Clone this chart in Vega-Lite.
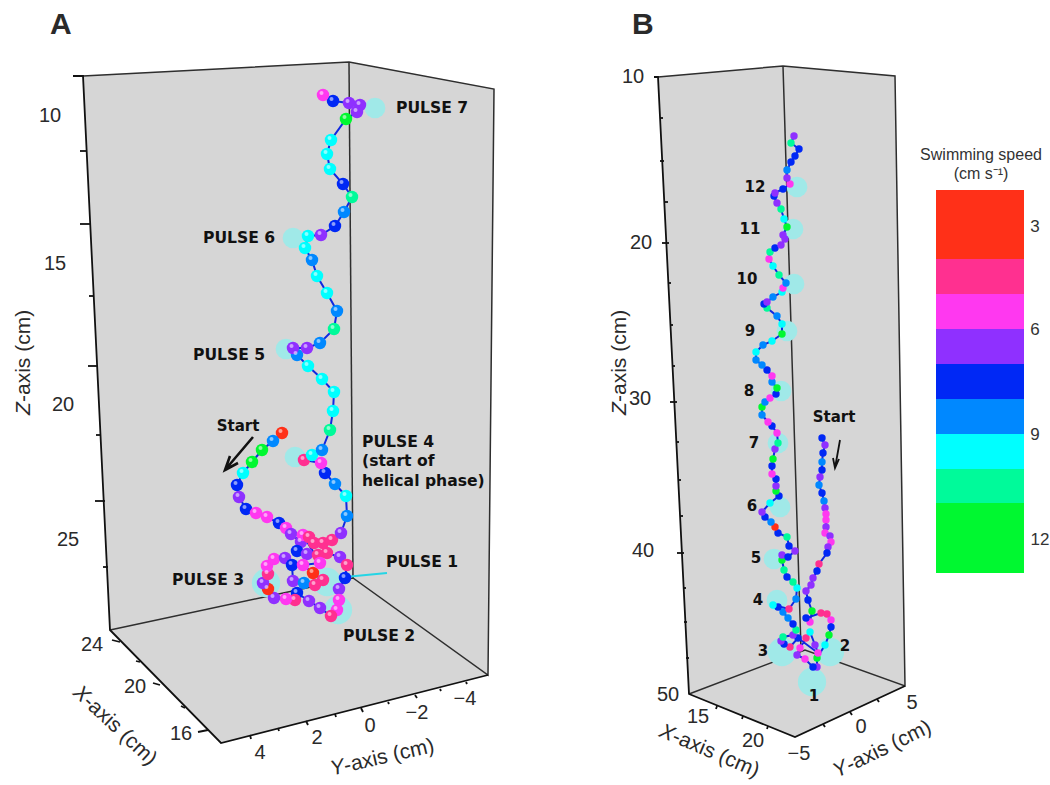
{"$schema":"https://vega.github.io/schema/vega-lite/v6.json","width":1050,"height":785,"padding":0,"autosize":"none","background":"white","config":{"view":{"stroke":null}},
"datasets":{
"track":[
{"p":"A","n":1,"x":282,"y":433,"v":3},{"p":"A","n":2,"x":273,"y":441,"v":8},{"p":"A","n":3,"x":262,"y":450,"v":12},{"p":"A","n":4,"x":252,"y":462,"v":12},{"p":"A","n":5,"x":243,"y":473,"v":9},{"p":"A","n":6,"x":237,"y":485,"v":7},{"p":"A","n":7,"x":239,"y":497,"v":6},{"p":"A","n":8,"x":246,"y":509,"v":7},{"p":"A","n":9,"x":256,"y":513,"v":5},{"p":"A","n":10,"x":267,"y":517,"v":5},{"p":"A","n":11,"x":279,"y":523,"v":7},{"p":"A","n":12,"x":286,"y":528,"v":5},{"p":"A","n":13,"x":291,"y":534,"v":6},{"p":"A","n":14,"x":301,"y":542,"v":6},{"p":"A","n":15,"x":297,"y":551,"v":7},{"p":"A","n":16,"x":307,"y":554,"v":6},{"p":"A","n":17,"x":318,"y":555,"v":4},{"p":"A","n":18,"x":327,"y":553,"v":4},{"p":"A","n":19,"x":340,"y":557,"v":6},{"p":"A","n":20,"x":347,"y":565,"v":4},{"p":"A","n":21,"x":345,"y":578,"v":7},{"p":"A","n":22,"x":339,"y":589,"v":6},{"p":"A","n":23,"x":339,"y":600,"v":5},{"p":"A","n":24,"x":337,"y":610,"v":5},{"p":"A","n":25,"x":331,"y":616,"v":4},{"p":"A","n":26,"x":320,"y":608,"v":6},{"p":"A","n":27,"x":309,"y":601,"v":6},{"p":"A","n":28,"x":297,"y":593,"v":7},{"p":"A","n":29,"x":295,"y":600,"v":4},{"p":"A","n":30,"x":286,"y":599,"v":5},{"p":"A","n":31,"x":274,"y":598,"v":6},{"p":"A","n":32,"x":268,"y":589,"v":3},{"p":"A","n":33,"x":263,"y":583,"v":6},{"p":"A","n":34,"x":268,"y":574,"v":4},{"p":"A","n":35,"x":267,"y":566,"v":5},{"p":"A","n":36,"x":274,"y":559,"v":5},{"p":"A","n":37,"x":285,"y":558,"v":6},{"p":"A","n":38,"x":292,"y":565,"v":7},{"p":"A","n":39,"x":293,"y":581,"v":6},{"p":"A","n":40,"x":304,"y":583,"v":8},{"p":"A","n":41,"x":315,"y":585,"v":4},{"p":"A","n":42,"x":323,"y":580,"v":4},{"p":"A","n":43,"x":313,"y":573,"v":3},{"p":"A","n":44,"x":303,"y":565,"v":5},{"p":"A","n":45,"x":320,"y":563,"v":5},{"p":"A","n":46,"x":303,"y":535,"v":5},{"p":"A","n":47,"x":309,"y":537,"v":4},{"p":"A","n":48,"x":314,"y":543,"v":4},{"p":"A","n":49,"x":323,"y":543,"v":4},{"p":"A","n":50,"x":332,"y":540,"v":4},{"p":"A","n":51,"x":341,"y":533,"v":6},{"p":"A","n":52,"x":347,"y":516,"v":8},{"p":"A","n":53,"x":346,"y":496,"v":9},{"p":"A","n":54,"x":335,"y":484,"v":8},{"p":"A","n":55,"x":325,"y":473,"v":7},{"p":"A","n":56,"x":321,"y":463,"v":5},{"p":"A","n":57,"x":304,"y":460,"v":4},{"p":"A","n":58,"x":312,"y":455,"v":9},{"p":"A","n":59,"x":322,"y":450,"v":8},{"p":"A","n":60,"x":330,"y":430,"v":10},{"p":"A","n":61,"x":333,"y":411,"v":9},{"p":"A","n":62,"x":334,"y":392,"v":9},{"p":"A","n":63,"x":322,"y":379,"v":9},{"p":"A","n":64,"x":308,"y":366,"v":9},{"p":"A","n":65,"x":297,"y":355,"v":8},{"p":"A","n":66,"x":293,"y":348,"v":6},{"p":"A","n":67,"x":307,"y":348,"v":6},{"p":"A","n":68,"x":320,"y":343,"v":8},{"p":"A","n":69,"x":334,"y":329,"v":10},{"p":"A","n":70,"x":337,"y":311,"v":8},{"p":"A","n":71,"x":327,"y":293,"v":9},{"p":"A","n":72,"x":317,"y":276,"v":9},{"p":"A","n":73,"x":312,"y":260,"v":8},{"p":"A","n":74,"x":305,"y":248,"v":9},{"p":"A","n":75,"x":308,"y":236,"v":9},{"p":"A","n":76,"x":321,"y":235,"v":6},{"p":"A","n":77,"x":335,"y":226,"v":7},{"p":"A","n":78,"x":344,"y":212,"v":8},{"p":"A","n":79,"x":352,"y":197,"v":10},{"p":"A","n":80,"x":343,"y":184,"v":7},{"p":"A","n":81,"x":330,"y":169,"v":9},{"p":"A","n":82,"x":327,"y":154,"v":9},{"p":"A","n":83,"x":331,"y":140,"v":9},{"p":"A","n":84,"x":346,"y":119,"v":12},{"p":"A","n":85,"x":357,"y":112,"v":6},{"p":"A","n":86,"x":360,"y":105,"v":6},{"p":"A","n":87,"x":349,"y":103,"v":6},{"p":"A","n":88,"x":333,"y":101,"v":7},{"p":"A","n":89,"x":323,"y":95,"v":5},
{"p":"B","n":1,"x":822,"y":438,"v":7},{"p":"B","n":2,"x":825,"y":445,"v":6},{"p":"B","n":3,"x":823,"y":453,"v":7},{"p":"B","n":4,"x":822,"y":462,"v":8},{"p":"B","n":5,"x":822,"y":470,"v":7},{"p":"B","n":6,"x":820,"y":477,"v":6},{"p":"B","n":7,"x":819,"y":485,"v":8},{"p":"B","n":8,"x":822,"y":493,"v":7},{"p":"B","n":9,"x":824,"y":501,"v":8},{"p":"B","n":10,"x":825,"y":508,"v":6},{"p":"B","n":11,"x":826,"y":514,"v":5},{"p":"B","n":12,"x":826,"y":520,"v":5},{"p":"B","n":13,"x":826,"y":527,"v":6},{"p":"B","n":14,"x":825,"y":533,"v":5},{"p":"B","n":15,"x":830,"y":536,"v":6},{"p":"B","n":16,"x":831,"y":542,"v":5},{"p":"B","n":17,"x":828,"y":547,"v":6},{"p":"B","n":18,"x":827,"y":553,"v":7},{"p":"B","n":19,"x":819,"y":564,"v":4},{"p":"B","n":20,"x":817,"y":571,"v":7},{"p":"B","n":21,"x":813,"y":578,"v":6},{"p":"B","n":22,"x":811,"y":585,"v":6},{"p":"B","n":23,"x":806,"y":591,"v":6},{"p":"B","n":24,"x":808,"y":600,"v":7},{"p":"B","n":25,"x":812,"y":611,"v":12},{"p":"B","n":26,"x":810,"y":622,"v":5},{"p":"B","n":27,"x":806,"y":618,"v":7},{"p":"B","n":28,"x":821,"y":613,"v":4},{"p":"B","n":29,"x":827,"y":614,"v":4},{"p":"B","n":30,"x":831,"y":620,"v":5},{"p":"B","n":31,"x":831,"y":627,"v":7},{"p":"B","n":32,"x":829,"y":635,"v":12},{"p":"B","n":33,"x":825,"y":645,"v":9},{"p":"B","n":34,"x":817,"y":658,"v":12},{"p":"B","n":35,"x":817,"y":667,"v":6},{"p":"B","n":36,"x":813,"y":667,"v":7},{"p":"B","n":37,"x":805,"y":659,"v":5},{"p":"B","n":38,"x":797,"y":655,"v":6},{"p":"B","n":39,"x":800,"y":648,"v":5},{"p":"B","n":40,"x":806,"y":638,"v":4},{"p":"B","n":41,"x":810,"y":632,"v":9},{"p":"B","n":42,"x":815,"y":645,"v":6},{"p":"B","n":43,"x":818,"y":653,"v":5},{"p":"B","n":44,"x":798,"y":638,"v":7},{"p":"B","n":45,"x":790,"y":647,"v":4},{"p":"B","n":46,"x":784,"y":644,"v":7},{"p":"B","n":47,"x":781,"y":641,"v":6},{"p":"B","n":48,"x":783,"y":637,"v":10},{"p":"B","n":49,"x":793,"y":635,"v":6},{"p":"B","n":50,"x":796,"y":630,"v":10},{"p":"B","n":51,"x":793,"y":624,"v":7},{"p":"B","n":52,"x":788,"y":618,"v":8},{"p":"B","n":53,"x":783,"y":612,"v":8},{"p":"B","n":54,"x":778,"y":607,"v":7},{"p":"B","n":55,"x":773,"y":605,"v":9},{"p":"B","n":56,"x":789,"y":609,"v":4},{"p":"B","n":57,"x":796,"y":599,"v":8},{"p":"B","n":58,"x":797,"y":588,"v":9},{"p":"B","n":59,"x":793,"y":582,"v":10},{"p":"B","n":60,"x":787,"y":577,"v":7},{"p":"B","n":61,"x":784,"y":570,"v":10},{"p":"B","n":62,"x":782,"y":560,"v":12},{"p":"B","n":63,"x":782,"y":555,"v":6},{"p":"B","n":64,"x":788,"y":557,"v":7},{"p":"B","n":65,"x":795,"y":551,"v":6},{"p":"B","n":66,"x":789,"y":546,"v":7},{"p":"B","n":67,"x":787,"y":537,"v":10},{"p":"B","n":68,"x":778,"y":533,"v":7},{"p":"B","n":69,"x":775,"y":527,"v":3},{"p":"B","n":70,"x":771,"y":522,"v":8},{"p":"B","n":71,"x":765,"y":517,"v":7},{"p":"B","n":72,"x":762,"y":512,"v":6},{"p":"B","n":73,"x":770,"y":503,"v":9},{"p":"B","n":74,"x":779,"y":496,"v":7},{"p":"B","n":75,"x":776,"y":491,"v":12},{"p":"B","n":76,"x":776,"y":486,"v":6},{"p":"B","n":77,"x":776,"y":479,"v":7},{"p":"B","n":78,"x":772,"y":474,"v":5},{"p":"B","n":79,"x":772,"y":466,"v":7},{"p":"B","n":80,"x":773,"y":459,"v":12},{"p":"B","n":81,"x":775,"y":449,"v":6},{"p":"B","n":82,"x":778,"y":443,"v":10},{"p":"B","n":83,"x":777,"y":433,"v":5},{"p":"B","n":84,"x":772,"y":426,"v":7},{"p":"B","n":85,"x":768,"y":422,"v":5},{"p":"B","n":86,"x":762,"y":415,"v":8},{"p":"B","n":87,"x":762,"y":407,"v":12},{"p":"B","n":88,"x":765,"y":402,"v":8},{"p":"B","n":89,"x":770,"y":398,"v":5},{"p":"B","n":90,"x":776,"y":394,"v":7},{"p":"B","n":91,"x":777,"y":388,"v":12},{"p":"B","n":92,"x":772,"y":382,"v":8},{"p":"B","n":93,"x":772,"y":376,"v":5},{"p":"B","n":94,"x":767,"y":370,"v":7},{"p":"B","n":95,"x":762,"y":365,"v":8},{"p":"B","n":96,"x":756,"y":360,"v":8},{"p":"B","n":97,"x":756,"y":352,"v":9},{"p":"B","n":98,"x":763,"y":345,"v":8},{"p":"B","n":99,"x":772,"y":341,"v":9},{"p":"B","n":100,"x":782,"y":334,"v":12},{"p":"B","n":101,"x":782,"y":324,"v":9},{"p":"B","n":102,"x":777,"y":316,"v":8},{"p":"B","n":103,"x":767,"y":308,"v":10},{"p":"B","n":104,"x":764,"y":304,"v":7},{"p":"B","n":105,"x":767,"y":302,"v":6},{"p":"B","n":106,"x":773,"y":297,"v":8},{"p":"B","n":107,"x":782,"y":292,"v":9},{"p":"B","n":108,"x":783,"y":288,"v":5},{"p":"B","n":109,"x":786,"y":283,"v":8},{"p":"B","n":110,"x":779,"y":275,"v":10},{"p":"B","n":111,"x":773,"y":266,"v":9},{"p":"B","n":112,"x":769,"y":259,"v":5},{"p":"B","n":113,"x":770,"y":252,"v":10},{"p":"B","n":114,"x":775,"y":248,"v":7},{"p":"B","n":115,"x":781,"y":245,"v":6},{"p":"B","n":116,"x":785,"y":239,"v":6},{"p":"B","n":117,"x":783,"y":235,"v":6},{"p":"B","n":118,"x":787,"y":227,"v":12},{"p":"B","n":119,"x":784,"y":219,"v":9},{"p":"B","n":120,"x":781,"y":209,"v":10},{"p":"B","n":121,"x":777,"y":203,"v":6},{"p":"B","n":122,"x":774,"y":196,"v":7},{"p":"B","n":123,"x":775,"y":193,"v":6},{"p":"B","n":124,"x":783,"y":189,"v":7},{"p":"B","n":125,"x":790,"y":184,"v":5},{"p":"B","n":126,"x":787,"y":178,"v":6},{"p":"B","n":127,"x":787,"y":170,"v":8},{"p":"B","n":128,"x":791,"y":162,"v":7},{"p":"B","n":129,"x":795,"y":156,"v":7},{"p":"B","n":130,"x":799,"y":149,"v":7},{"p":"B","n":131,"x":791,"y":143,"v":10},{"p":"B","n":132,"x":794,"y":136,"v":6}
],
"walls":[
{"id":"A1","n":1,"x":83,"y":76},{"id":"A1","n":2,"x":349,"y":62},{"id":"A1","n":3,"x":494,"y":89},{"id":"A1","n":4,"x":488,"y":675},{"id":"A1","n":5,"x":221,"y":743},{"id":"A1","n":6,"x":110,"y":630},
{"id":"B1","n":1,"x":658,"y":77},{"id":"B1","n":2,"x":783,"y":66},{"id":"B1","n":3,"x":895,"y":76},{"id":"B1","n":4,"x":905,"y":686},{"id":"B1","n":5,"x":795,"y":737},{"id":"B1","n":6,"x":689,"y":694}
],
"outer":[
{"id":"a","n":1,"x":73,"y":76},{"id":"a","n":2,"x":83,"y":76},{"id":"a","n":3,"x":110,"y":630},{"id":"a","n":4,"x":221,"y":743},{"id":"a","n":5,"x":488,"y":675},
{"id":"b","n":1,"x":654,"y":77},{"id":"b","n":2,"x":658,"y":77},{"id":"b","n":3,"x":689,"y":694},{"id":"b","n":4,"x":795,"y":737},{"id":"b","n":5,"x":905,"y":686},
{"id":"t1","n":1,"x":80,"y":151},{"id":"t1","n":2,"x":86,"y":151},{"id":"t2","n":1,"x":80,"y":224},{"id":"t2","n":2,"x":90,"y":224},{"id":"t3","n":1,"x":89,"y":296},{"id":"t3","n":2,"x":94,"y":296},{"id":"t4","n":1,"x":88,"y":366},{"id":"t4","n":2,"x":98,"y":366},{"id":"t5","n":1,"x":96,"y":435},{"id":"t5","n":2,"x":101,"y":435},{"id":"t6","n":1,"x":95,"y":501},{"id":"t6","n":2,"x":105,"y":501},{"id":"t7","n":1,"x":103,"y":567},{"id":"t7","n":2,"x":108,"y":567},
{"id":"t8","n":1,"x":112,"y":640},{"id":"t8","n":2,"x":120,"y":642},{"id":"t9","n":1,"x":136,"y":661},{"id":"t9","n":2,"x":140,"y":662},{"id":"t10","n":1,"x":153,"y":683},{"id":"t10","n":2,"x":160,"y":685},{"id":"t11","n":1,"x":181,"y":706},{"id":"t11","n":2,"x":185,"y":708},{"id":"t12","n":1,"x":198,"y":732},{"id":"t12","n":2,"x":208,"y":730},
{"id":"t13","n":1,"x":250,"y":735},{"id":"t13","n":2,"x":251,"y":739},{"id":"t14","n":1,"x":278,"y":728},{"id":"t14","n":2,"x":279,"y":731},{"id":"t15","n":1,"x":306,"y":721},{"id":"t15","n":2,"x":308,"y":725},{"id":"t16","n":1,"x":335,"y":714},{"id":"t16","n":2,"x":336,"y":717},{"id":"t17","n":1,"x":361,"y":708},{"id":"t17","n":2,"x":363,"y":712},{"id":"t18","n":1,"x":388,"y":702},{"id":"t18","n":2,"x":389,"y":704},{"id":"t19","n":1,"x":415,"y":695},{"id":"t19","n":2,"x":417,"y":698},{"id":"t20","n":1,"x":440,"y":689},{"id":"t20","n":2,"x":441,"y":691},{"id":"t21","n":1,"x":466,"y":682},{"id":"t21","n":2,"x":467,"y":684},
{"id":"u1","n":1,"x":660,"y":118},{"id":"u1","n":2,"x":663,"y":118},{"id":"u2","n":1,"x":660,"y":161},{"id":"u2","n":2,"x":664,"y":161},{"id":"u3","n":1,"x":665,"y":202},{"id":"u3","n":2,"x":668,"y":202},{"id":"u4","n":1,"x":662,"y":243},{"id":"u4","n":2,"x":669,"y":243},{"id":"u5","n":1,"x":668,"y":283},{"id":"u5","n":2,"x":671,"y":283},{"id":"u6","n":1,"x":670,"y":325},{"id":"u6","n":2,"x":673,"y":325},{"id":"u7","n":1,"x":672,"y":366},{"id":"u7","n":2,"x":675,"y":366},{"id":"u8","n":1,"x":670,"y":402},{"id":"u8","n":2,"x":677,"y":402},{"id":"u9","n":1,"x":676,"y":442},{"id":"u9","n":2,"x":679,"y":442},{"id":"u10","n":1,"x":678,"y":480},{"id":"u10","n":2,"x":681,"y":480},{"id":"u11","n":1,"x":680,"y":516},{"id":"u11","n":2,"x":683,"y":516},{"id":"u12","n":1,"x":677,"y":553},{"id":"u12","n":2,"x":684,"y":553},{"id":"u13","n":1,"x":683,"y":588},{"id":"u13","n":2,"x":686,"y":588},{"id":"u14","n":1,"x":684,"y":622},{"id":"u14","n":2,"x":687,"y":622},{"id":"u15","n":1,"x":686,"y":658},{"id":"u15","n":2,"x":689,"y":658},
{"id":"v1","n":1,"x":717,"y":706},{"id":"v1","n":2,"x":716,"y":709},{"id":"v2","n":1,"x":743,"y":716},{"id":"v2","n":2,"x":742,"y":719},{"id":"v3","n":1,"x":768,"y":726},{"id":"v3","n":2,"x":767,"y":729},{"id":"v4","n":1,"x":823,"y":724},{"id":"v4","n":2,"x":825,"y":727},{"id":"v5","n":1,"x":850,"y":712},{"id":"v5","n":2,"x":852,"y":715},{"id":"v6","n":1,"x":877,"y":699},{"id":"v6","n":2,"x":879,"y":702}
],
"inner":[
{"id":"a1","n":1,"x":83,"y":76},{"id":"a1","n":2,"x":349,"y":62},{"id":"a1","n":3,"x":494,"y":89},{"id":"a1","n":4,"x":488,"y":675},{"id":"a1","n":5,"x":353,"y":578},{"id":"a1","n":6,"x":110,"y":630},
{"id":"a2","n":1,"x":349,"y":62},{"id":"a2","n":2,"x":353,"y":578},
{"id":"b1","n":1,"x":658,"y":77},{"id":"b1","n":2,"x":783,"y":66},{"id":"b1","n":3,"x":895,"y":76},{"id":"b1","n":4,"x":905,"y":686},{"id":"b1","n":5,"x":805,"y":650},{"id":"b1","n":6,"x":689,"y":694},
{"id":"b2","n":1,"x":783,"y":66},{"id":"b2","n":2,"x":801,"y":650}
],
"bigpulse":[{"x":266,"y":583},{"x":338,"y":610},{"x":327,"y":582},{"x":782,"y":652},{"x":830,"y":652},{"x":812,"y":682}],
"smallpulse":[{"x":375,"y":108},{"x":293,"y":238},{"x":286,"y":349},{"x":295,"y":457},{"x":797,"y":187},{"x":793,"y":229},{"x":794,"y":284},{"x":787,"y":331},{"x":781,"y":391},{"x":778,"y":443},{"x":780,"y":507},{"x":774,"y":559},{"x":777,"y":600}]
},
"encoding":{"x":{"field":"x","type":"quantitative","scale":{"domain":[0,1050],"nice":false,"zero":false},"axis":null},"y":{"field":"y","type":"quantitative","scale":{"domain":[0,785],"reverse":true,"nice":false,"zero":false},"axis":null}},
"layer":[
{"data":{"name":"walls"},"mark":{"type":"line","fill":"#d6d6d6","stroke":"#d6d6d6","strokeWidth":0.5},"encoding":{"detail":{"field":"id"},"order":{"field":"n","type":"quantitative"}}},
{"data":{"name":"inner"},"mark":{"type":"line","stroke":"#2e2e2e","strokeWidth":1.5},"encoding":{"detail":{"field":"id"},"order":{"field":"n","type":"quantitative"}}},
{"data":{"name":"outer"},"mark":{"type":"line","stroke":"#111111","strokeWidth":1.8},"encoding":{"detail":{"field":"id"},"order":{"field":"n","type":"quantitative"}}},
{"data":{"name":"bigpulse"},"mark":{"type":"circle","color":"#a0e9e8","opacity":1,"size":800}},
{"data":{"name":"smallpulse"},"mark":{"type":"circle","color":"#a0e9e8","opacity":1,"size":430}},
{"data":{"values":[{"n":1,"x":345,"y":577},{"n":2,"x":387,"y":573}]},"mark":{"type":"line","stroke":"#25d5e5","strokeWidth":2},"encoding":{"order":{"field":"n","type":"quantitative"}}},
{"data":{"name":"track"},"mark":{"type":"line","stroke":"#1028e0","strokeWidth":2},"encoding":{"detail":{"field":"p"},"order":{"field":"n","type":"quantitative"}}},
{"data":{"name":"track"},"transform":[{"filter":"datum.p=='A'"}],"mark":{"type":"circle","opacity":1,"size":155},"encoding":{"color":{"field":"v","type":"ordinal","legend":null,"scale":{"domain":[3,4,5,6,7,8,9,10,12],"range":["#ff3018","#ff3090","#ff38f0","#8f30ff","#0028f5","#0088ff","#00ffff","#00fa9a","#00f830"]}}}},
{"data":{"name":"track"},"transform":[{"filter":"datum.p=='A'"}],"mark":{"type":"circle","color":"white","opacity":0.55,"size":16,"xOffset":-1.5,"yOffset":-2}},
{"data":{"name":"track"},"transform":[{"filter":"datum.p=='B'"}],"mark":{"type":"circle","opacity":1,"size":55},"encoding":{"color":{"field":"v","type":"ordinal","legend":null}}},
{"data":{"values":[{"n":1,"x":253,"y":437},{"n":2,"x":225,"y":470},{"n":3,"x":238,"y":463},{"n":4,"x":225,"y":470},{"n":5,"x":230,"y":456}]},"mark":{"type":"line","stroke":"#111","strokeWidth":2.6},"encoding":{"order":{"field":"n","type":"quantitative"}}},
{"data":{"values":[{"n":1,"x":840,"y":440},{"n":2,"x":835,"y":468},{"n":3,"x":839,"y":459},{"n":4,"x":835,"y":468},{"n":5,"x":833,"y":458}]},"mark":{"type":"line","stroke":"#111","strokeWidth":1.8},"encoding":{"order":{"field":"n","type":"quantitative"}}},
{"data":{"values":[{"a":3,"x":936,"x1":1024,"y":190,"y1":259,"v":3},{"a":4,"x":936,"x1":1024,"y":259,"y1":294,"v":4},{"a":5,"x":936,"x1":1024,"y":294,"y1":329,"v":5},{"a":6,"x":936,"x1":1024,"y":329,"y1":364,"v":6},{"a":7,"x":936,"x1":1024,"y":364,"y1":399,"v":7},{"a":8,"x":936,"x1":1024,"y":399,"y1":434,"v":8},{"a":9,"x":936,"x1":1024,"y":434,"y1":469,"v":9},{"a":10,"x":936,"x1":1024,"y":469,"y1":503,"v":10},{"a":12,"x":936,"x1":1024,"y":503,"y1":573,"v":12}]},"mark":{"type":"rect"},"encoding":{"x2":{"field":"x1"},"y2":{"field":"y1"},"color":{"field":"v","type":"ordinal","legend":null}}},
{"data":{"values":[{"t":"10","x":50,"y":116},{"t":"15","x":55,"y":264},{"t":"20","x":63,"y":405},{"t":"25","x":68,"y":540},{"t":"24","x":92,"y":645},{"t":"20","x":135,"y":687},{"t":"16","x":181,"y":734},{"t":"4","x":260,"y":753},{"t":"2","x":317,"y":738},{"t":"0","x":370,"y":726},{"t":"−2","x":417,"y":713},{"t":"−4","x":465,"y":699},{"t":"10","x":633,"y":77},{"t":"20","x":641,"y":243},{"t":"30","x":640,"y":399},{"t":"40","x":643,"y":551},{"t":"50","x":668,"y":695},{"t":"15","x":698,"y":717},{"t":"20","x":753,"y":741},{"t":"−5","x":799,"y":754},{"t":"0","x":861,"y":727},{"t":"5","x":912,"y":703}]},"mark":{"type":"text","font":"Liberation Sans","fontSize":20,"color":"#2a2a2a","baseline":"middle","align":"center"},"encoding":{"text":{"field":"t"}}},
{"data":{"values":[{"t":"Z","x":30,"y":415},{"t":"Z","x":626,"y":415}]},"mark":{"type":"text","font":"Liberation Sans","fontStyle":"italic","fontSize":21,"color":"#2a2a2a","align":"left","baseline":"alphabetic","angle":270},"encoding":{"text":{"field":"t"}}},
{"data":{"values":[{"t":"-axis (cm)","x":30,"y":402},{"t":"-axis (cm)","x":626,"y":402}]},"mark":{"type":"text","font":"Liberation Sans","fontSize":21,"color":"#2a2a2a","align":"left","baseline":"alphabetic","angle":270},"encoding":{"text":{"field":"t"}}},
{"data":{"values":[{"t":"X","x":72,"y":694}]},"mark":{"type":"text","font":"Liberation Sans","fontStyle":"italic","fontSize":21,"color":"#2a2a2a","align":"left","baseline":"alphabetic","angle":43},"encoding":{"text":{"field":"t"}}},
{"data":{"values":[{"t":"-axis (cm)","x":82,"y":703.5}]},"mark":{"type":"text","font":"Liberation Sans","fontSize":21,"color":"#2a2a2a","align":"left","baseline":"alphabetic","angle":43},"encoding":{"text":{"field":"t"}}},
{"data":{"values":[{"t":"Y","x":332,"y":775.5}]},"mark":{"type":"text","font":"Liberation Sans","fontStyle":"italic","fontSize":21,"color":"#2a2a2a","align":"left","baseline":"alphabetic","angle":-13},"encoding":{"text":{"field":"t"}}},
{"data":{"values":[{"t":"-axis (cm)","x":345.6,"y":772.4}]},"mark":{"type":"text","font":"Liberation Sans","fontSize":21,"color":"#2a2a2a","align":"left","baseline":"alphabetic","angle":-13},"encoding":{"text":{"field":"t"}}},
{"data":{"values":[{"t":"X","x":658,"y":736}]},"mark":{"type":"text","font":"Liberation Sans","fontStyle":"italic","fontSize":21,"color":"#2a2a2a","align":"left","baseline":"alphabetic","angle":23},"encoding":{"text":{"field":"t"}}},
{"data":{"values":[{"t":"-axis (cm)","x":671,"y":741.5}]},"mark":{"type":"text","font":"Liberation Sans","fontSize":21,"color":"#2a2a2a","align":"left","baseline":"alphabetic","angle":23},"encoding":{"text":{"field":"t"}}},
{"data":{"values":[{"t":"Y","x":837,"y":778}]},"mark":{"type":"text","font":"Liberation Sans","fontStyle":"italic","fontSize":21,"color":"#2a2a2a","align":"left","baseline":"alphabetic","angle":-26},"encoding":{"text":{"field":"t"}}},
{"data":{"values":[{"t":"-axis (cm)","x":850,"y":772}]},"mark":{"type":"text","font":"Liberation Sans","fontSize":21,"color":"#2a2a2a","align":"left","baseline":"alphabetic","angle":-26},"encoding":{"text":{"field":"t"}}},
{"data":{"values":[{"t":"A","x":50,"y":34},{"t":"B","x":632,"y":34}]},"mark":{"type":"text","font":"Liberation Sans","fontWeight":"bold","fontSize":30,"color":"#2a2a2a","align":"left","baseline":"alphabetic"},"encoding":{"text":{"field":"t"}}},
{"data":{"values":[{"t":"PULSE 7","x":396,"y":108},{"t":"PULSE 6","x":203,"y":238},{"t":"PULSE 5","x":193,"y":355},{"t":"PULSE 4","x":362,"y":442},{"t":"(start of","x":362,"y":461},{"t":"helical phase)","x":362,"y":481},{"t":"PULSE 1","x":386,"y":562},{"t":"PULSE 2","x":343,"y":636},{"t":"PULSE 3","x":172,"y":580}]},"mark":{"type":"text","font":"DejaVu Sans","fontWeight":"bold","fontSize":15.6,"color":"#111","align":"left","baseline":"middle"},"encoding":{"text":{"field":"t"}}},
{"data":{"values":[{"t":"Start","x":238,"y":426},{"t":"Start","x":834,"y":417},{"t":"12","x":755,"y":187},{"t":"11","x":750,"y":229},{"t":"10","x":747,"y":279},{"t":"9","x":750,"y":331},{"t":"8","x":749,"y":391},{"t":"7","x":754,"y":443},{"t":"6","x":752,"y":506},{"t":"5","x":756,"y":558},{"t":"4","x":758,"y":600},{"t":"3","x":763,"y":651},{"t":"2","x":845,"y":646},{"t":"1","x":814,"y":696}]},"mark":{"type":"text","font":"DejaVu Sans","fontWeight":"bold","fontSize":15,"color":"#111","align":"center","baseline":"middle"},"encoding":{"text":{"field":"t"}}},
{"data":{"values":[{"t":"Swimming speed","x":981,"y":155},{"t":"(cm s⁻¹)","x":981,"y":174}]},"mark":{"type":"text","font":"Liberation Sans","fontSize":16,"color":"#333","align":"center","baseline":"middle"},"encoding":{"text":{"field":"t"}}},
{"data":{"values":[{"t":"3","x":1035,"y":227},{"t":"6","x":1035,"y":330},{"t":"9","x":1035,"y":435},{"t":"12","x":1040,"y":540}]},"mark":{"type":"text","font":"Liberation Sans","fontSize":17,"color":"#333","align":"center","baseline":"middle"},"encoding":{"text":{"field":"t"}}}
]}
